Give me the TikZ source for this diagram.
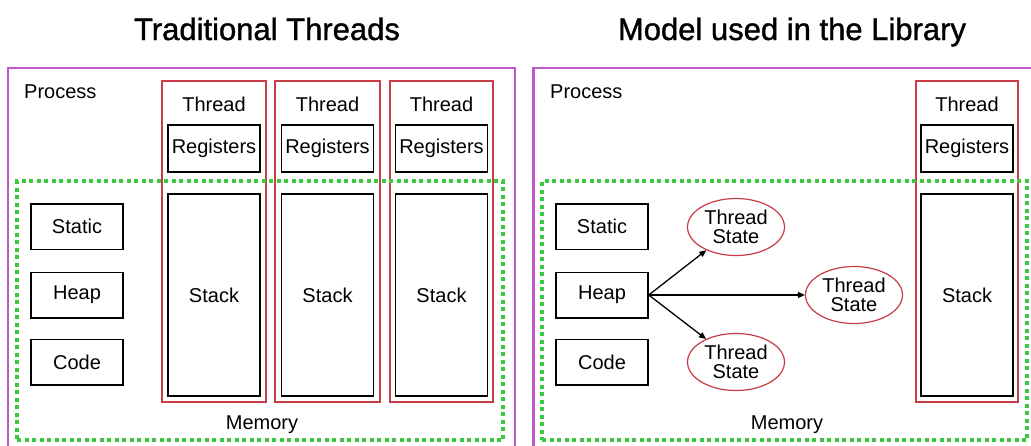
\documentclass[tikz,border=0pt]{standalone}
\usepackage{fontspec}
\setmainfont{Liberation Sans}
\newfontface\titlefont{Liberation Sans}[FakeBold=1.2]
\usetikzlibrary{shapes.geometric,arrows.meta}
\definecolor{procpurple}{RGB}{190,90,200}
\definecolor{thredred}{RGB}{200,60,70}
\definecolor{memgreen}{RGB}{60,200,60}
\tikzset{
  lbl/.style={font=\fontsize{20}{19}\selectfont, inner sep=0pt},
  ttl/.style={font=\titlefont\fontsize{31}{34}\selectfont, inner sep=0pt, anchor=base},
  procbox/.style={draw=procpurple, line width=2.2pt, minimum width=507pt, minimum height=382pt, inner sep=0pt},
  membox/.style={draw=memgreen, line width=3.2pt, dash pattern=on 4pt off 3.5pt, minimum height=259pt, inner sep=0pt},
  threadbox/.style={draw=thredred, line width=1.5pt, minimum height=321pt, inner sep=0pt},
  blackbox/.style={draw=black, line width=1.5pt, minimum width=92pt, inner sep=0pt, lbl},
  segbox/.style={blackbox, minimum height=45.5pt},
  regbox/.style={blackbox, minimum height=47pt},
  stackbox/.style={blackbox, minimum height=202pt},
  tstate/.style={ellipse, draw=thredred, line width=1.2pt, minimum width=97pt, minimum height=57pt, inner sep=0pt, align=center, lbl},
  arr/.style={line width=1.3pt, -{Triangle[length=7pt,width=6pt]}}
}
\begin{document}
\begin{tikzpicture}[x=1pt,y=-1pt]
\useasboundingbox[fill=white] (0,0) rectangle (1031,445);
% titles
\node[ttl] (titleL) at (267,40) {Traditional Threads};
\node[ttl] (titleR) at (792,40) {Model used in the Library};
% ---------- left panel ----------
\node[procbox] (procL) at (261.5,259) {};
\node[lbl, anchor=west] (procLlbl) at (24,92) {Process};
\node[threadbox, minimum width=104pt] (thrA) at (214,241.5) {};
\node[threadbox, minimum width=105pt] (thrB) at (327.5,241.5) {};
\node[threadbox, minimum width=103pt] (thrC) at (441.5,241.5) {};
\node[lbl] (thrAlbl) at (214,104) {Thread};
\node[lbl] (thrBlbl) at (327.5,104) {Thread};
\node[lbl] (thrClbl) at (441.5,104) {Thread};
\node[regbox] (regA) at (214,148.5) {Registers};
\node[regbox] (regB) at (327.5,148.5) {Registers};
\node[regbox] (regC) at (441.5,148.5) {Registers};
\node[stackbox] (stkA) at (214,295) {Stack};
\node[stackbox] (stkB) at (327.5,295) {Stack};
\node[stackbox] (stkC) at (441.5,295) {Stack};
\node[segbox] (statL) at (77,226.5) {Static};
\node[segbox] (heapL) at (77,295) {Heap};
\node[segbox] (codeL) at (77,362) {Code};
\node[membox, minimum width=486pt] (memL) at (260,310.5) {};
\node[lbl] (memLlbl) at (262,425) {Memory};
% ---------- right panel ----------
\node[procbox] (procR) at (787,259) {};
\node[lbl, anchor=west] (procRlbl) at (550,92) {Process};
\node[threadbox, minimum width=102pt] (thrR) at (967,241.5) {};
\node[lbl] (thrRlbl) at (967,104) {Thread};
\node[regbox] (regR) at (967,148.5) {Registers};
\node[stackbox] (stkR) at (967,295) {Stack};
\node[segbox] (statR) at (602,226.5) {Static};
\node[segbox] (heapR) at (602,295) {Heap};
\node[segbox] (codeR) at (602,362) {Code};
\node[tstate] (tsA) at (736,227) {Thread\\State};
\node[tstate] (tsB) at (854,295) {Thread\\State};
\node[tstate] (tsC) at (736,362) {Thread\\State};
\draw[arr] (heapR.east) -- (tsA);
\draw[arr] (heapR.east) -- (tsB);
\draw[arr] (heapR.east) -- (tsC);
\node[membox, minimum width=485pt] (memR) at (784.5,310.5) {};
\node[lbl] (memRlbl) at (787,425) {Memory};
\end{tikzpicture}
\end{document}
